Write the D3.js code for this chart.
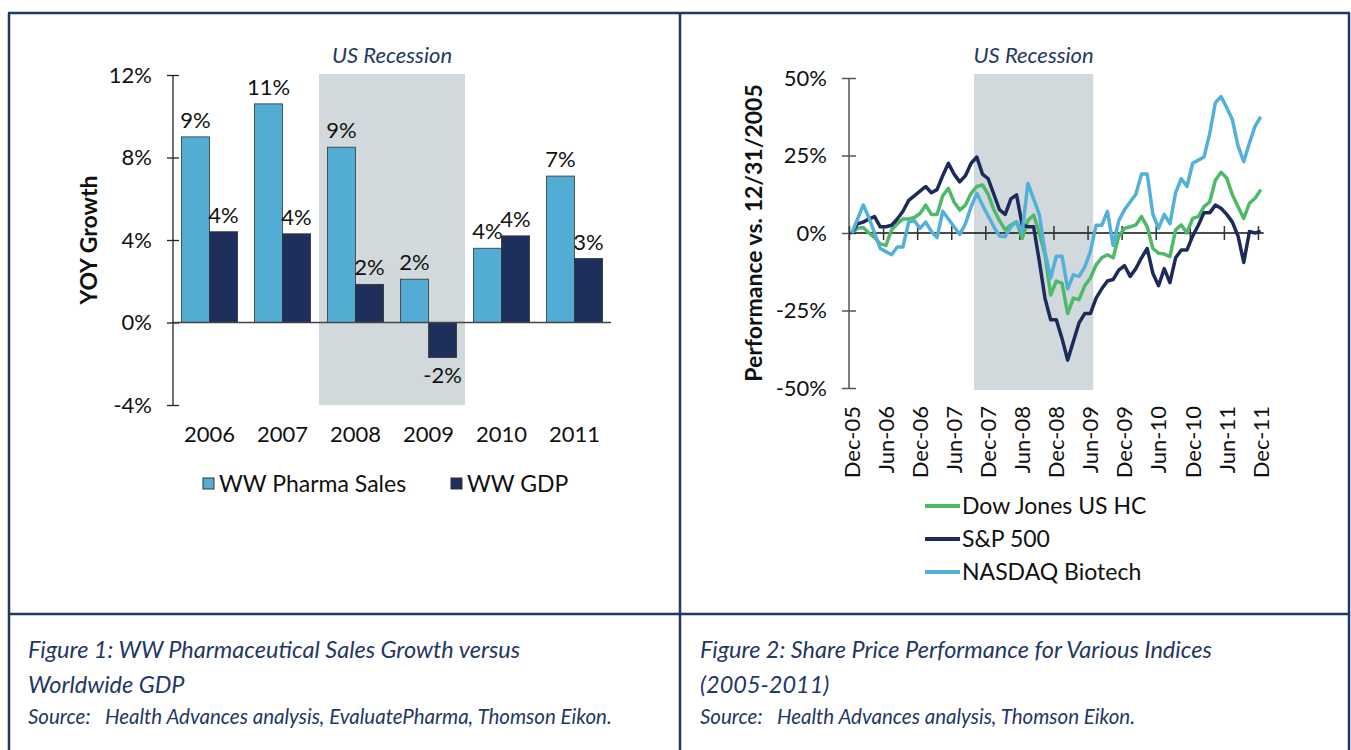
<!DOCTYPE html>
<html>
<head>
<meta charset="utf-8">
<script src="https://cdnjs.cloudflare.com/ajax/libs/d3/7.8.5/d3.min.js"></script>
<style>
  body { margin: 0; background: #fff; }
  text { font-family: Lato, "Open Sans", sans-serif; fill: #111; }
  .navy { fill: #1f3864; }
</style>
</head>
<body>
<svg id="chart" width="1351" height="750"></svg>
<script>
// ---- Figure 1 data (bars) ----
const years = ["2006", "2007", "2008", "2009", "2010", "2011"];
const pharmaSales = [9.0, 10.6, 8.5, 2.1, 3.6, 7.1];
const worldGdp = [4.4, 4.3, 1.85, -1.7, 4.2, 3.1];
const pharmaLabels = ["9%", "11%", "9%", "2%", "4%", "7%"];
const gdpLabels = ["4%", "4%", "2%", "-2%", "4%", "3%"];
const barSeries = ["WW Pharma Sales", "WW GDP"];
const barTicks = [-4, 0, 4, 8, 12];
const barRecession = ["2008", "2009"];

// ---- Figure 2 data (monthly lines, Dec-05 .. Dec-11) ----
const months = d3.timeMonth.range(new Date(2005, 11, 1), new Date(2012, 0, 1));
const dowJonesHC = [
  0, 1.5, 1.8, 0, -1.5, -3.5, -4, 1, 3, 4.5,
  4.5, 5, 6.3, 9, 6, 6, 12, 14.4, 10, 7.4,
  9, 12.8, 15, 15.5, 12.5, 7.5, 4, 1, 2.6, 3.6,
  -1.7, 4, 5.8, 0, -7, -20, -15.5, -16.2, -26, -21,
  -21.5, -17, -14.5, -10.3, -8, -7, -8, -1, 1.5, 2,
  2.6, 5.3, 2, -5, -6.5, -6.8, -7.6, 1, 2.6, 0,
  4.7, 5.3, 8.5, 10, 17, 19.6, 17.7, 12.3, 8.5, 4.7,
  9.6, 11.2, 14
];
const sp500 = [
  0, 3, 3.5, 4.5, 5.3, 2, 2, 2.5, 4.5, 7,
  10.5, 12, 13.5, 15, 13, 14, 18.5, 22.5, 19, 16.5,
  18.5, 22.5, 24.5, 19, 17.5, 12.5, 7.5, 6, 11, 12.3,
  2.5, 2, 2, -9, -21, -28, -28, -34, -41, -35,
  -29, -26, -26, -21, -18, -15.5, -15, -12, -10.5, -14,
  -11.5, -8, -5, -13, -17, -11.5, -16, -8, -5.5, -5.5,
  -1, 2.5, 6.5, 6.5, 9, 8, 6, 3.5, -1, -9.5,
  0.5, 0, 0.5
];
const nasdaqBiotech = [
  0, 4.5, 9, 5, 0, -5, -6, -7, -4.5, -4.5,
  3.5, 4, 1.5, 3.5, 0.5, -1.5, 7, 4.5, 2, -0.5,
  3, 8.5, 12.8, 9, 5.5, 2, -1, -1.2, 2, 3.6,
  0.4, 16, 11, 6, -6, -14.5, -7.5, -7.5, -18, -13.5,
  -14, -11, -6, 2.5, 2.5, 7, -4, 4, 7.5, 10,
  12.5, 19, 19, 6, 1.5, 6, 3, 13, 17.5, 15,
  22.5, 23.5, 24.5, 32, 42, 44, 40.5, 36.5, 28, 23,
  29, 34.5, 37.5
];
const lineSeries = ["Dow Jones US HC", "S&P 500", "NASDAQ Biotech"];
const lineTicks = [-50, -25, 0, 25, 50];
const monthTickEvery = 6;
const lineRecession = ["Oct-07", "Jun-09"];

const navy = "#1f3864";
const shade = "#d1d9dc";
const barColors = ["#52acd3", "#1e2f5c"];
const lineColors = ["#4dba68", "#1c2b5a", "#52b0d9"];
const fmtMonth = d3.timeFormat("%b-%y");

const svg = d3.select("#chart");

// ---------------- Figure 1 ----------------
const xb = d3.scaleBand(years, [173, 611]).paddingInner(0.23).paddingOuter(0.115);
const xs = d3.scaleBand([0, 1], [0, xb.bandwidth()]);
const yb = d3.scaleLinear([-4, 12], [405, 75]);
const gapB = (xb.step() - xb.bandwidth()) / 2;

svg.append("rect")
  .attr("x", xb(barRecession[0]) - gapB)
  .attr("width", xb(barRecession[1]) + xb.bandwidth() + gapB - (xb(barRecession[0]) - gapB))
  .attr("y", yb(12) - 1).attr("height", yb(-4) - yb(12) + 1)
  .attr("fill", shade);

svg.append("text").attr("class", "navy")
  .attr("x", xb(barRecession[0]) - gapB + xb.step()).attr("y", 63)
  .attr("text-anchor", "middle").style("font-style", "italic").style("font-size", "22px")
  .text("US Recession");

const barData = years.map((y, i) => ({ year: y, vals: [pharmaSales[i], worldGdp[i]], labels: [pharmaLabels[i], gdpLabels[i]] }));

const groups = svg.append("g").selectAll("g").data(barData).join("g")
  .attr("transform", d => `translate(${xb(d.year)},0)`);

groups.selectAll("rect").data(d => d.vals.map((v, k) => ({ v, k }))).join("rect")
  .attr("x", d => xs(d.k)).attr("width", xs.bandwidth())
  .attr("y", d => yb(Math.max(0, d.v)))
  .attr("height", d => Math.abs(yb(d.v) - yb(0)))
  .attr("fill", d => barColors[d.k])
  .attr("stroke", "#333").attr("stroke-width", 0.8);

groups.selectAll("text").data(d => d.vals.map((v, k) => ({ v, k, t: d.labels[k] }))).join("text")
  .attr("x", d => xs(d.k) + xs.bandwidth() / 2)
  .attr("y", d => d.v >= 0 ? yb(d.v) - 9 : yb(d.v) + 25)
  .attr("text-anchor", "middle").style("font-size", "22px")
  .text(d => d.t);

// y axis
const yAxisB = svg.append("g").attr("transform", "translate(173,0)")
  .call(d3.axisLeft(yb).tickValues(barTicks).tickFormat(d => d + "%").tickSize(6).tickPadding(15));
yAxisB.select(".domain").attr("stroke", "#222").attr("stroke-width", 1.3).attr("d", `M0,${yb(12)}V${yb(-4)}`);
yAxisB.selectAll(".tick line").attr("x1", -6).attr("x2", 6).attr("stroke", "#222").attr("stroke-width", 1.3);
yAxisB.selectAll(".tick text").style("font-size", "22px").attr("fill", "#111").attr("font-family", null);

// zero line
svg.append("line").attr("x1", 173).attr("x2", 611).attr("y1", yb(0)).attr("y2", yb(0))
  .attr("stroke", "#444").attr("stroke-width", 1.5);

// x labels
const xAxisB = svg.append("g").attr("transform", "translate(0,412)")
  .call(d3.axisBottom(xb).tickSize(0).tickPadding(14));
xAxisB.select(".domain").remove();
xAxisB.selectAll(".tick text").style("font-size", "22px").attr("fill", "#111").attr("font-family", null);

svg.append("text").attr("transform", `translate(97,${yb(4)}) rotate(-90)`)
  .attr("text-anchor", "middle").style("font-size", "23px").style("font-weight", "bold")
  .text("YOY Growth");

// legend
const legB = [{ x: 203, tx: 219 }, { x: 451, tx: 467 }];
barSeries.forEach((s, i) => {
  svg.append("rect").attr("x", legB[i].x).attr("y", 478).attr("width", 11).attr("height", 11)
    .attr("fill", barColors[i]).attr("stroke", "#333").attr("stroke-width", 1);
  svg.append("text").attr("x", legB[i].tx).attr("y", 492).style("font-size", "23px").text(s);
});

// ---------------- Figure 2 ----------------
const xr = d3.scaleLinear([0, months.length], [849, 849 + months.length * 5.68]);
const yr = d3.scaleLinear([-50, 50], [388, 78]);
const labels = months.map(fmtMonth);
const recStart = labels.indexOf(lineRecession[0]);
const recEnd = labels.indexOf(lineRecession[1]) + 1;

svg.append("rect")
  .attr("x", xr(recStart)).attr("width", xr(recEnd) - xr(recStart))
  .attr("y", yr(50) - 4).attr("height", yr(-50) - yr(50) + 6)
  .attr("fill", shade);

svg.append("text").attr("class", "navy")
  .attr("x", (xr(recStart) + xr(recEnd)) / 2).attr("y", 63)
  .attr("text-anchor", "middle").style("font-style", "italic").style("font-size", "22px")
  .text("US Recession");

const yAxisR = svg.append("g").attr("transform", `translate(${xr(0)},0)`)
  .call(d3.axisLeft(yr).tickValues(lineTicks).tickFormat(d => d + "%").tickSize(7).tickPadding(15));
yAxisR.select(".domain").attr("stroke", "#555").attr("stroke-width", 1.5).attr("d", `M0,${yr(50)}V${yr(-50)}`);
yAxisR.selectAll(".tick line").attr("x1", -7).attr("x2", 7).attr("stroke", "#555").attr("stroke-width", 1.5);
yAxisR.selectAll(".tick text").style("font-size", "22px").attr("fill", "#111").attr("font-family", null);

// x ticks on the 0% line
const tickIdx = d3.range(0, months.length, monthTickEvery);
const xAxisR = svg.append("g").attr("transform", `translate(0,${yr(0)})`)
  .call(d3.axisBottom(xr).tickValues(tickIdx).tickSize(7).tickFormat(""));
xAxisR.select(".domain").attr("stroke", "#111").attr("stroke-width", 1.5)
  .attr("d", `M${xr(0)},0H${xr(months.length)}`);
xAxisR.selectAll(".tick line").attr("y1", -7).attr("y2", 7).attr("stroke", "#333").attr("stroke-width", 1.5);

svg.append("g").selectAll("text").data(tickIdx).join("text")
  .attr("transform", d => `translate(${xr(d + 0.5)},406) rotate(-90)`)
  .attr("text-anchor", "end").attr("dy", "0.36em").style("font-size", "22px")
  .text(d => labels[d]);

const seriesVals = [dowJonesHC, sp500, nasdaqBiotech];
const line = d3.line().x((d, i) => xr(i + 0.5)).y(d => yr(d));
seriesVals.forEach((vals, k) => {
  svg.append("path").datum(vals).attr("d", line)
    .attr("fill", "none").attr("stroke", lineColors[k]).attr("stroke-width", 3.5)
    .attr("stroke-linejoin", "round");
});

svg.append("text").attr("transform", `translate(762,${yr(0)}) rotate(-90)`)
  .attr("text-anchor", "middle").style("font-size", "23px").style("font-weight", "bold")
  .text("Performance vs. 12/31/2005");

lineSeries.forEach((s, i) => {
  const cy = 506 + i * 33;
  svg.append("line").attr("x1", 925).attr("x2", 960).attr("y1", cy).attr("y2", cy)
    .attr("stroke", lineColors[i]).attr("stroke-width", 4);
  svg.append("text").attr("x", 962).attr("y", cy).attr("dy", "0.36em").style("font-size", "23px").text(s);
});

// ---------------- frame & captions ----------------
const frame = [
  [8, 13, 1350, 13], [9, 13, 9, 750], [1349, 13, 1349, 750],
  [680, 13, 680, 750], [8, 614, 1350, 614]
];
svg.append("g").selectAll("line").data(frame).join("line")
  .attr("x1", d => d[0]).attr("y1", d => d[1]).attr("x2", d => d[2]).attr("y2", d => d[3])
  .attr("stroke", navy).attr("stroke-width", 2.5);

const captions = [
  { x: 28, lines: ["Figure 1: WW Pharmaceutical Sales Growth versus", "Worldwide GDP"],
    src: "Source:   Health Advances analysis, EvaluatePharma, Thomson Eikon." },
  { x: 700, lines: ["Figure 2: Share Price Performance for Various Indices", "(2005-2011)"],
    src: "Source:   Health Advances analysis, Thomson Eikon." }
];
captions.forEach(c => {
  c.lines.forEach((t, i) => {
    svg.append("text").attr("class", "navy").attr("x", c.x).attr("y", 658 + i * 35)
      .style("font-style", "italic").style("font-size", "23.5px").text(t);
  });
  svg.append("text").attr("class", "navy").attr("x", c.x).attr("y", 724)
    .style("font-style", "italic").style("font-size", "20.5px").style("white-space", "pre").text(c.src);
});
</script>
</body>
</html>
